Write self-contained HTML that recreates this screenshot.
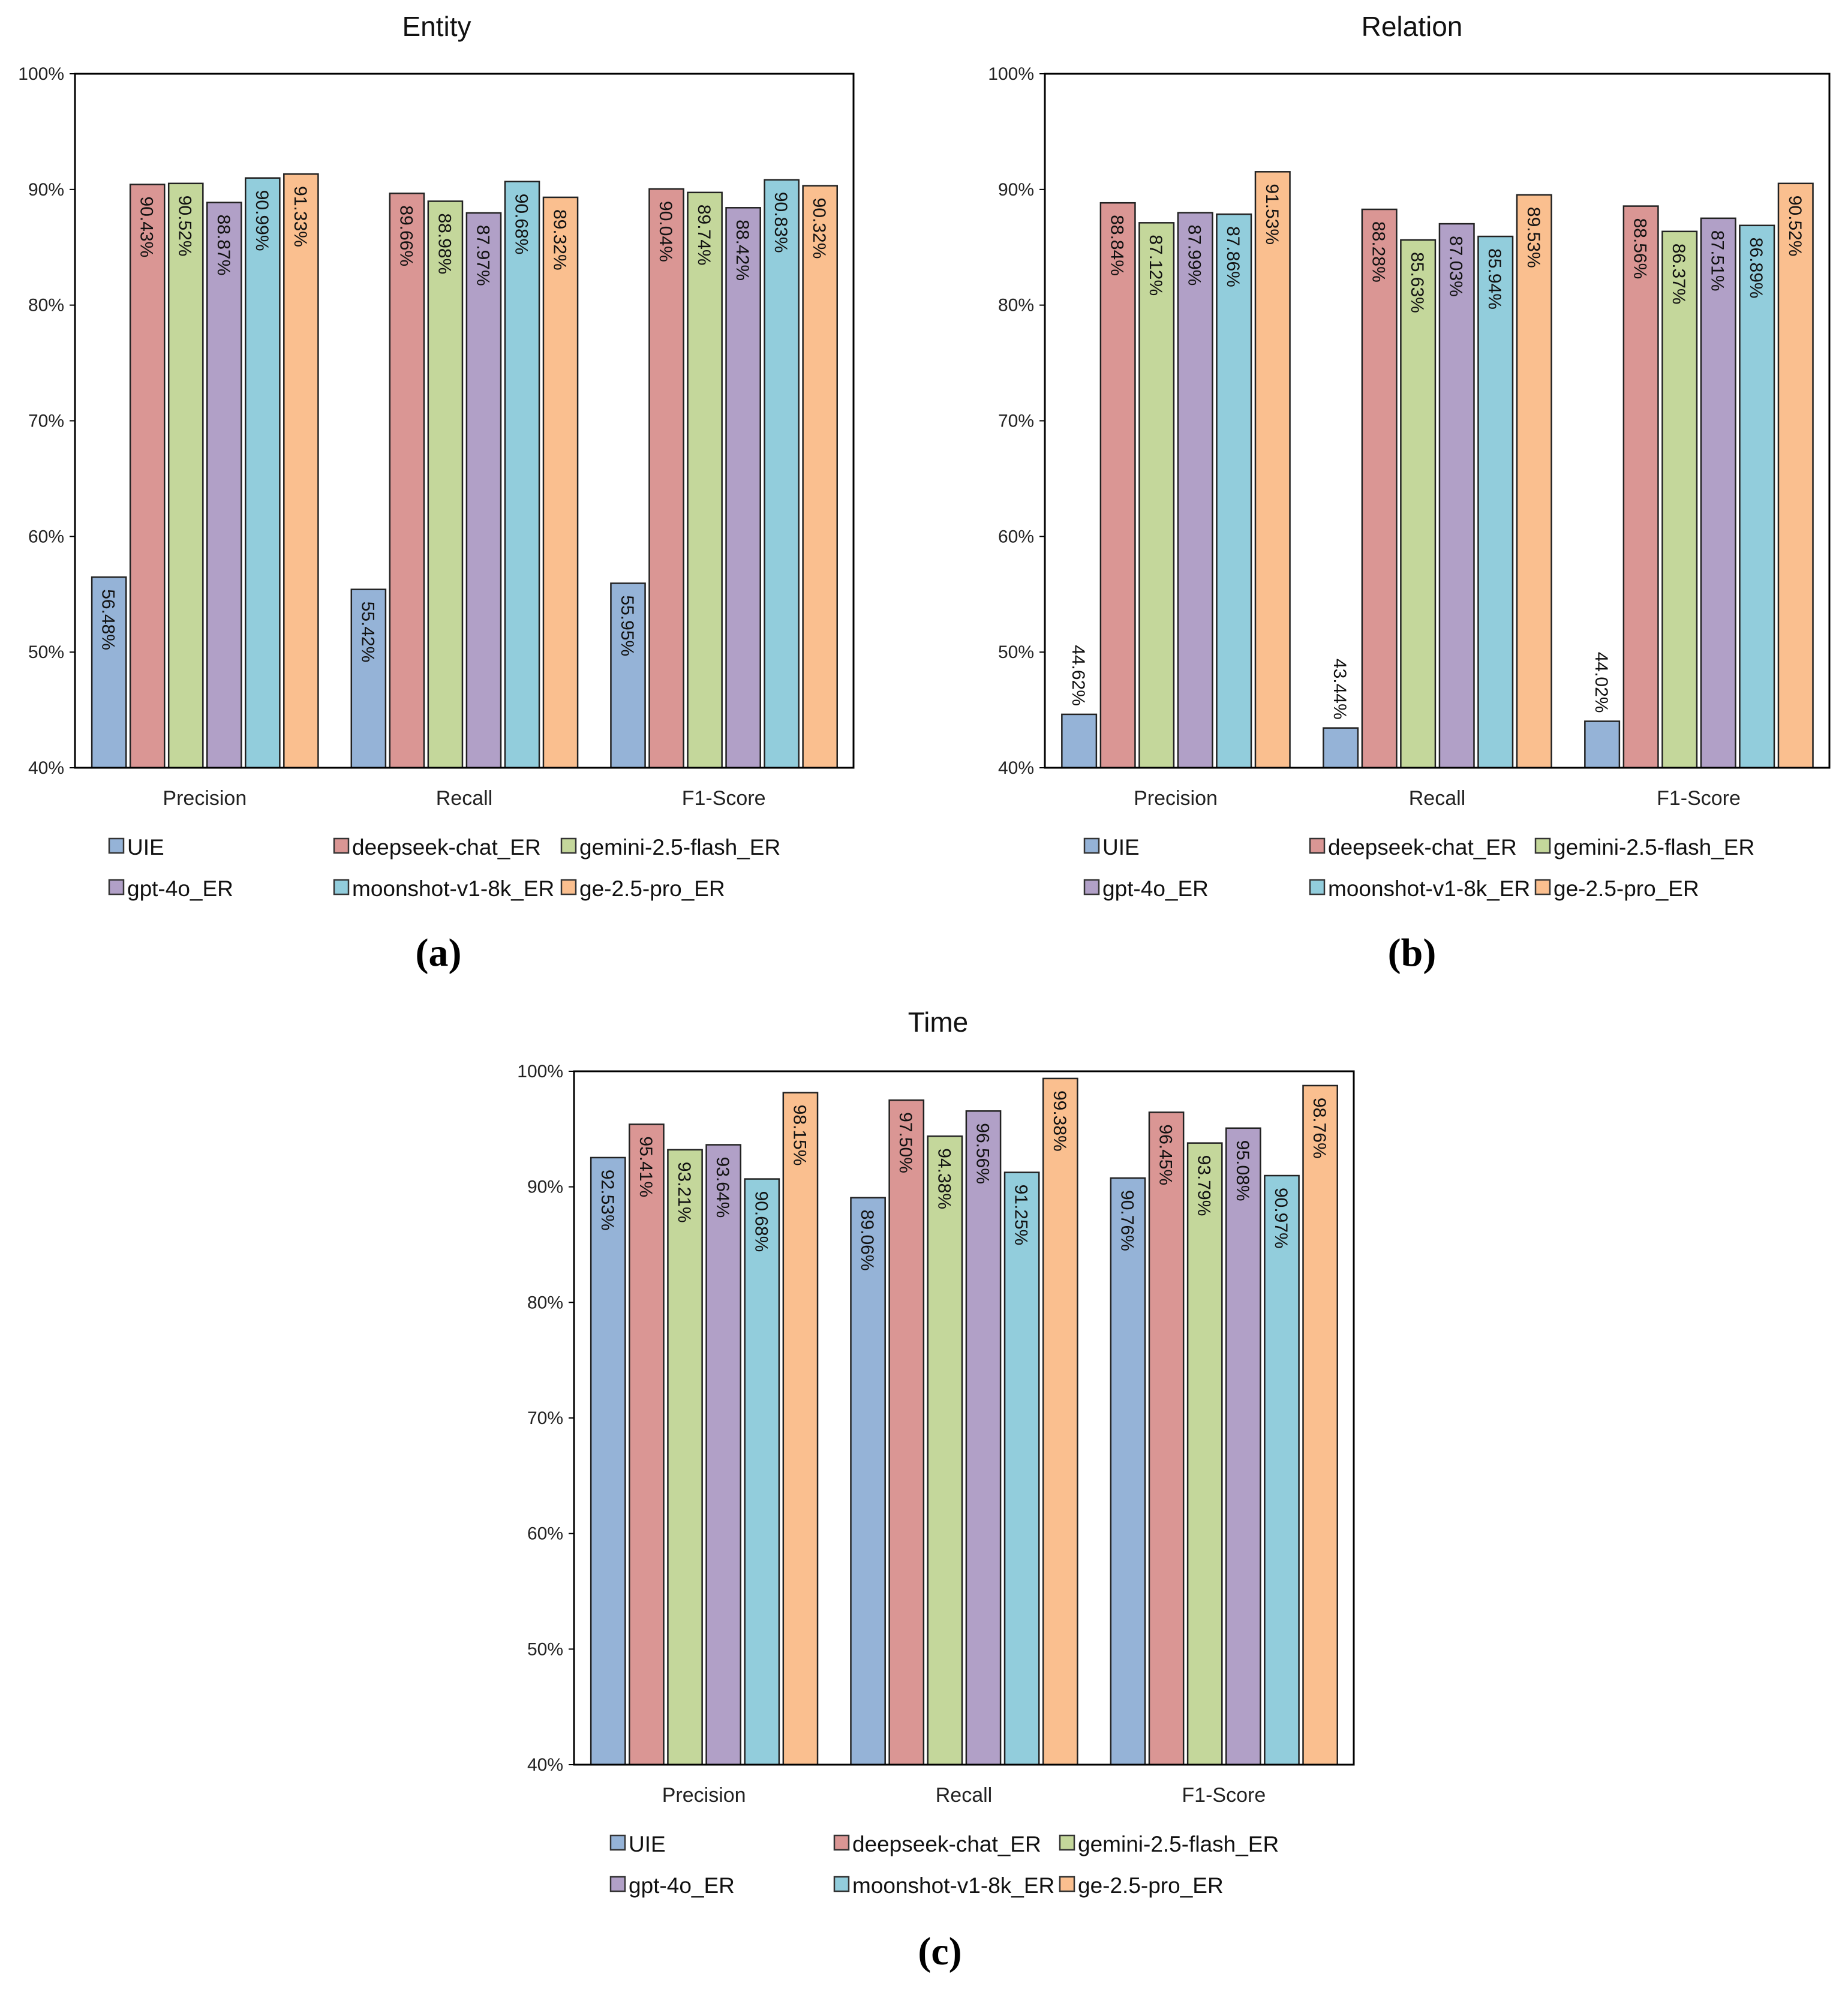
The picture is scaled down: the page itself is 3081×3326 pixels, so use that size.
<!DOCTYPE html>
<html><head><meta charset="utf-8"><style>
html,body{margin:0;padding:0;background:#fff;}
svg{display:block;font-family:"Liberation Sans",sans-serif;}
</style></head><body>
<svg id="root" width="3081" height="3326" viewBox="0 0 3081 3326" xmlns="http://www.w3.org/2000/svg"></svg>
<script>
const categories = ["Precision", "Recall", "F1-Score"];
const seriesNames = ["UIE", "deepseek-chat_ER", "gemini-2.5-flash_ER", "gpt-4o_ER", "moonshot-v1-8k_ER", "ge-2.5-pro_ER"];
const seriesColors = ["#95b3d7", "#da9694", "#c4d79b", "#b1a0c7", "#92cddc", "#fabf8f"];
const yTicks = [40, 50, 60, 70, 80, 90, 100];
// values[series][category]
const entityValues = [
  [56.48, 55.42, 55.95],
  [90.43, 89.66, 90.04],
  [90.52, 88.98, 89.74],
  [88.87, 87.97, 88.42],
  [90.99, 90.68, 90.83],
  [91.33, 89.32, 90.32]
];
const relationValues = [
  [44.62, 43.44, 44.02],
  [88.84, 88.28, 88.56],
  [87.12, 85.63, 86.37],
  [87.99, 87.03, 87.51],
  [87.86, 85.94, 86.89],
  [91.53, 89.53, 90.52]
];
const timeValues = [
  [92.53, 89.06, 90.76],
  [95.41, 97.50, 96.45],
  [93.21, 94.38, 93.79],
  [93.64, 96.56, 95.08],
  [90.68, 91.25, 90.97],
  [98.15, 99.38, 98.76]
];

const NS = "http://www.w3.org/2000/svg";
const root = document.getElementById("root");
function mk(tag, attrs, parent, text) {
  const e = document.createElementNS(NS, tag);
  for (const k in attrs) e.setAttribute(k, attrs[k]);
  if (text !== undefined) e.textContent = text;
  (parent || root).appendChild(e);
  return e;
}

function chart(cfg) {
  const g = mk("g", {});
  
  
  const L = cfg.left, R = cfg.right, T = cfg.top, B = cfg.bottom;
  const yMin = 40, yMax = 100;
  const yScale = v => B - (v - yMin) / (yMax - yMin) * (B - T);
  const gw = (R - L) / categories.length;
  const xBar = (ci, si) => L + gw * ci + gw * (0.065 + 0.148 * si);
  const bw = gw * 0.132;

  const title = mk("text", {x: cfg.titleX, y: cfg.titleY, "font-size": 46, "text-anchor": "middle", fill: "#111"}, g, cfg.title);
  
  

  yTicks.forEach(t => {
    const y = yScale(t);
    mk("line", {x1: L - 9, x2: L, y1: y, y2: y, stroke: "#000", "stroke-width": 2}, g);
    const lb = mk("text", {x: L - 18, y: y + 10, "font-size": 30, "text-anchor": "end", fill: "#222"}, g, t + "%");
    
    
  });

  cfg.values.forEach((arr, si) => {
    arr.forEach((v, ci) => {
      const x = xBar(ci, si), y = yScale(v);
      const r = mk("rect", {x: x, y: y, width: bw, height: B - y, fill: seriesColors[si], stroke: "#222", "stroke-width": 2.5}, g);
      
      
      const cx = x + bw / 2;
      const inside = (B - y) > 200;
      let t;
      if (inside) {
        t = mk("text", {x: 0, y: 0, "font-size": 30, "text-anchor": "start", transform: `translate(${cx - 11},${y + 20}) rotate(90)`, fill: "#111"}, g, v.toFixed(2) + "%");
      } else {
        t = mk("text", {x: 0, y: 0, "font-size": 30, "text-anchor": "end", transform: `translate(${cx - 11},${y - 14}) rotate(90)`, fill: "#111"}, g, v.toFixed(2) + "%");
      }
      
      
    });
  });

  const frame = mk("rect", {x: L, y: T, width: R - L, height: B - T, fill: "none", stroke: "#000", "stroke-width": 3}, g);
  
  

  categories.forEach((c, ci) => {
    const t = mk("text", {x: L + gw * (ci + 0.5), y: cfg.catY, "font-size": 34, "text-anchor": "middle", fill: "#222"}, g, c);
    
    
  });

  seriesNames.forEach((n, si) => {
    const row = Math.floor(si / 3), col = si % 3;
    const mx = cfg.legendX[col], my = cfg.legendY[row];
    const le = mk("g", {}, g);
    
    
    mk("rect", {x: mx, y: my - 27, width: 24, height: 24, fill: seriesColors[si], stroke: "#333", "stroke-width": 2.5}, le);
    mk("text", {x: mx + 30, y: my, "font-size": 37, fill: "#111"}, le, n);
  });

  const cap = mk("text", {x: cfg.capX, y: cfg.capY, "font-size": 66, "font-weight": "bold", "text-anchor": "middle", "font-family": "Liberation Serif, serif", fill: "#000"}, g, cfg.caption);
  
  
}

chart({name: "entity", title: "Entity", values: entityValues, left: 125, right: 1423, top: 123, bottom: 1280,
  titleX: 728, titleY: 60, catY: 1342, legendX: [182, 557, 936], legendY: [1425, 1494], capX: 731, capY: 1610, caption: "(a)"});
chart({name: "relation", title: "Relation", values: relationValues, left: 1742, right: 3050, top: 123, bottom: 1280,
  titleX: 2354, titleY: 60, catY: 1342, legendX: [1808, 2184, 2560], legendY: [1425, 1494], capX: 2354, capY: 1610, caption: "(b)"});
chart({name: "time", title: "Time", values: timeValues, left: 957, right: 2257, top: 1786, bottom: 2942,
  titleX: 1564, titleY: 1720, catY: 3004, legendX: [1018, 1391, 1767], legendY: [3087, 3156], capX: 1567, capY: 3275, caption: "(c)"});
</script>
</body></html>
